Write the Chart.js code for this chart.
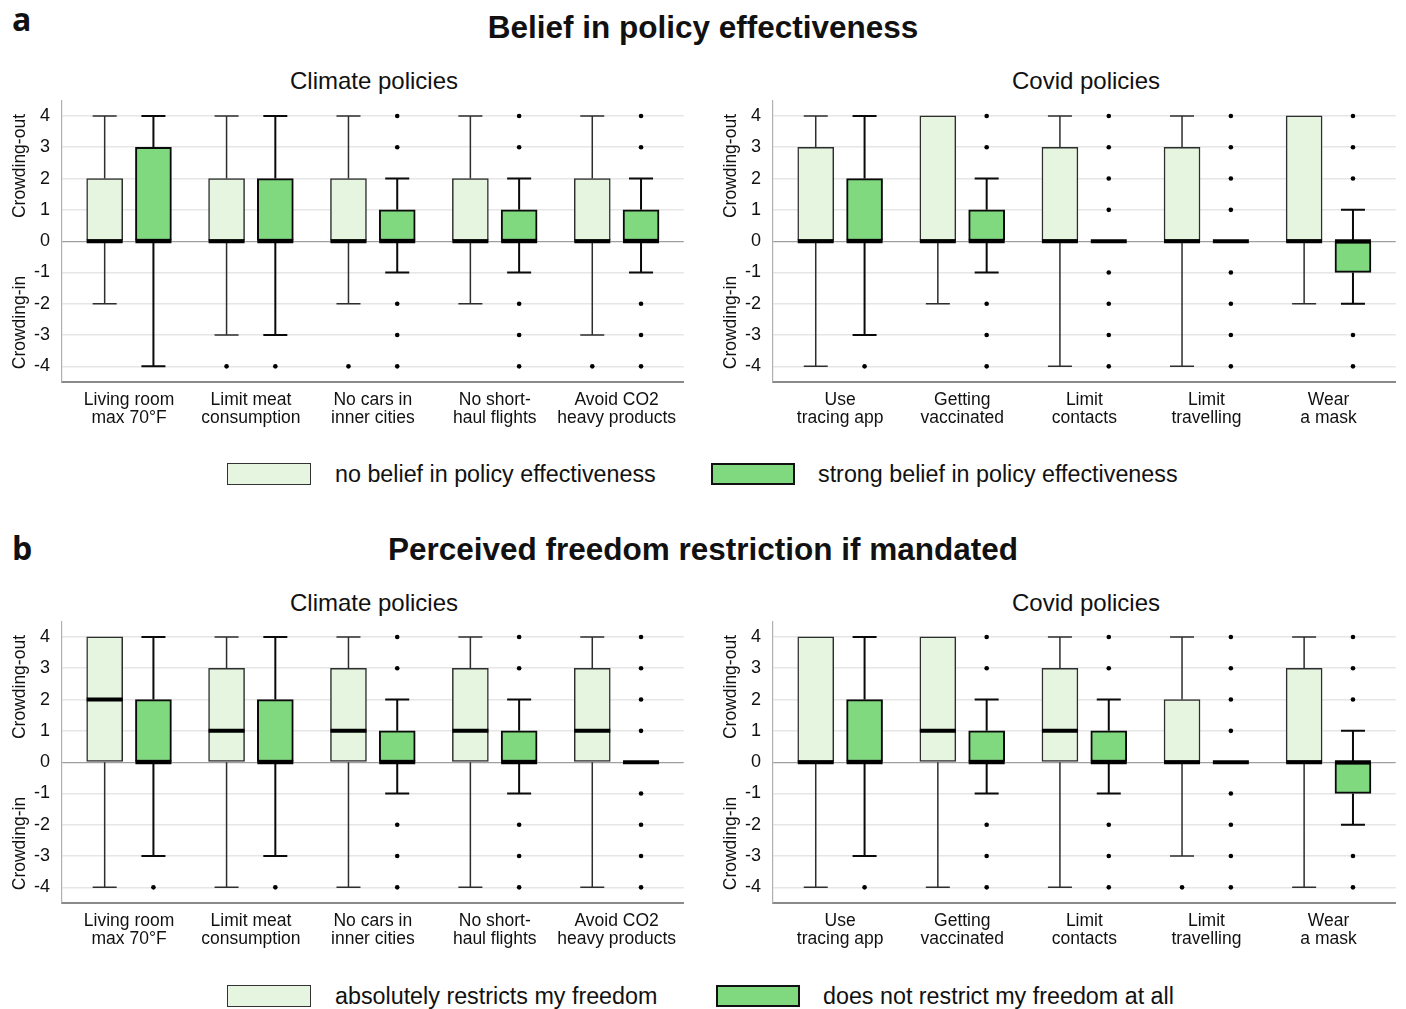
<!DOCTYPE html>
<html>
<head>
<meta charset="utf-8">
<script src="https://cdn.jsdelivr.net/npm/chart.js@4.4.1/dist/chart.umd.min.js"></script>
<style>
  html, body { margin: 0; padding: 0; background: #fff; }
  #page { position: relative; width: 1406px; height: 1009px; overflow: hidden;
          font-family: "Liberation Sans", Arial, sans-serif; color: #111; }
  canvas { position: absolute; }
  .txt { position: absolute; white-space: nowrap; line-height: 1; }
  .letter { font-family: "Open Sans", sans-serif; font-weight: 700; font-size: 32px; left: 12px; }
  .title { font-weight: 700; font-size: 31.5px; left: 0; width: 1406px; text-align: center; }
  .sub { font-size: 24px; text-align: center; width: 624px; }
  .sw { position: absolute; width: 84px; height: 22px; box-sizing: border-box; }
  .sw.light { background: #e5f5e0; border: 1.6px solid #333; }
  .sw.dark { background: #80d87f; border: 2px solid #111; }
  .lg { font-size: 23.3px; }
</style>
</head>
<body>
<div id="page">
  <div class="txt letter" style="top:3px">a</div>
  <div class="txt title" style="top:12px">Belief in policy effectiveness</div>
  <div class="txt sub" style="left:62px;top:69px">Climate policies</div>
  <div class="txt sub" style="left:774px;top:69px">Covid policies</div>
  <canvas id="aClimate" width="686" height="344" style="left:0;top:98px"></canvas>
  <canvas id="aCovid" width="687" height="344" style="left:711px;top:98px"></canvas>
  <div class="sw light" style="left:227px;top:463px"></div>
  <div class="txt lg" style="left:335px;top:463px">no belief in policy effectiveness</div>
  <div class="sw dark" style="left:711px;top:463px"></div>
  <div class="txt lg" style="left:818px;top:463px">strong belief in policy effectiveness</div>

  <div class="txt letter" style="top:532px">b</div>
  <div class="txt title" style="top:534px">Perceived freedom restriction if mandated</div>
  <div class="txt sub" style="left:62px;top:591px">Climate policies</div>
  <div class="txt sub" style="left:774px;top:591px">Covid policies</div>
  <canvas id="bClimate" width="686" height="344" style="left:0;top:619px"></canvas>
  <canvas id="bCovid" width="687" height="344" style="left:711px;top:619px"></canvas>
  <div class="sw light" style="left:227px;top:985px"></div>
  <div class="txt lg" style="left:335px;top:985px">absolutely restricts my freedom</div>
  <div class="sw dark" style="left:716px;top:985px"></div>
  <div class="txt lg" style="left:823px;top:985px">does not restrict my freedom at all</div>
</div>

<script>
// Policy labels (two lines each) and y tick values
const climateCategories = [['Living room', 'max 70°F'], ['Limit meat', 'consumption'], ['No cars in', 'inner cities'], ['No short-', 'haul flights'], ['Avoid CO2', 'heavy products']];
const covidCategories = [['Use', 'tracing app'], ['Getting', 'vaccinated'], ['Limit', 'contacts'], ['Limit', 'travelling'], ['Wear', 'a mask']];
const yTickValues = [-4, -3, -2, -1, 0, 1, 2, 3, 4];
const sideLabelText = ['Crowding-out', 'Crowding-in'];

// Box summaries per policy: [lower whisker, Q1, median, Q3, upper whisker]; outliers listed separately
// a) belief in policy effectiveness
const beliefClimateNone = [[-2, 0, 0, 2, 4], [-3, 0, 0, 2, 4], [-2, 0, 0, 2, 4], [-2, 0, 0, 2, 4], [-3, 0, 0, 2, 4]];
const beliefClimateNoneOut = [[], [-4], [-4], [], [-4]];
const beliefClimateStrong = [[-4, 0, 0, 3, 4], [-3, 0, 0, 2, 4], [-1, 0, 0, 1, 2], [-1, 0, 0, 1, 2], [-1, 0, 0, 1, 2]];
const beliefClimateStrongOut = [[], [-4], [4, 3, -2, -3, -4], [4, 3, -2, -3, -4], [4, 3, -2, -3, -4]];

const beliefCovidNone = [[-4, 0, 0, 3, 4], [-2, 0, 0, 4, 4], [-4, 0, 0, 3, 4], [-4, 0, 0, 3, 4], [-2, 0, 0, 4, 4]];
const beliefCovidNoneOut = [[], [], [], [], []];
const beliefCovidStrong = [[-3, 0, 0, 2, 4], [-1, 0, 0, 1, 2], [0, 0, 0, 0, 0], [0, 0, 0, 0, 0], [-2, -1, 0, 0, 1]];
const beliefCovidStrongOut = [[-4], [4, 3, -2, -3, -4], [4, 3, 2, 1, -1, -2, -3, -4], [4, 3, 2, 1, -1, -2, -3, -4], [4, 3, 2, -3, -4]];

// b) perceived freedom restriction if mandated
const freedomClimateAbs = [[-4, 0, 2, 4, 4], [-4, 0, 1, 3, 4], [-4, 0, 1, 3, 4], [-4, 0, 1, 3, 4], [-4, 0, 1, 3, 4]];
const freedomClimateAbsOut = [[], [], [], [], []];
const freedomClimateNot = [[-3, 0, 0, 2, 4], [-3, 0, 0, 2, 4], [-1, 0, 0, 1, 2], [-1, 0, 0, 1, 2], [0, 0, 0, 0, 0]];
const freedomClimateNotOut = [[-4], [-4], [4, 3, -2, -3, -4], [4, 3, -2, -3, -4], [4, 3, 2, 1, -1, -2, -3, -4]];

const freedomCovidAbs = [[-4, 0, 0, 4, 4], [-4, 0, 1, 4, 4], [-4, 0, 1, 3, 4], [-3, 0, 0, 2, 4], [-4, 0, 0, 3, 4]];
const freedomCovidAbsOut = [[], [], [], [-4], []];
const freedomCovidNot = [[-3, 0, 0, 2, 4], [-1, 0, 0, 1, 2], [-1, 0, 0, 1, 2], [0, 0, 0, 0, 0], [-2, -1, 0, 0, 1]];
const freedomCovidNotOut = [[-4], [4, 3, -2, -3, -4], [4, 3, -2, -3, -4], [4, 3, 2, 1, -1, -2, -3, -4], [4, 3, 2, -3, -4]];

const FONT = '"Liberation Sans", Arial, sans-serif';
const LIGHT = { fill: '#e5f5e0', line: '#2e2e2e', width: 1.5 };
const DARK = { fill: '#80d87f', line: '#0a0a0a', width: 2 };
const PAIR_OFFSET = 0.2;

// whiskers, caps and median bars drawn on top of the box bars
const boxWhiskers = {
  id: 'boxWhiskers',
  afterDatasetsDraw(chart) {
    const { ctx } = chart;
    const y = chart.scales.y;
    chart.data.datasets.forEach((ds, di) => {
      if (!ds.stats) return;
      const meta = chart.getDatasetMeta(di);
      meta.data.forEach((bar, i) => {
        const [lo, q1, med, q3, hi] = ds.stats[i];
        const cx = bar.x, w = bar.width, cap = w / 3;
        ctx.save();
        ctx.strokeStyle = ds.whiskerColor;
        ctx.lineWidth = ds.whiskerWidth;
        ctx.beginPath();
        if (hi > q3) {
          ctx.moveTo(cx, y.getPixelForValue(q3));
          ctx.lineTo(cx, y.getPixelForValue(hi));
          ctx.moveTo(cx - cap, y.getPixelForValue(hi));
          ctx.lineTo(cx + cap, y.getPixelForValue(hi));
        }
        if (lo < q1) {
          ctx.moveTo(cx, y.getPixelForValue(q1));
          ctx.lineTo(cx, y.getPixelForValue(lo));
          ctx.moveTo(cx - cap, y.getPixelForValue(lo));
          ctx.lineTo(cx + cap, y.getPixelForValue(lo));
        }
        ctx.stroke();
        ctx.strokeStyle = '#000';
        ctx.lineWidth = 4;
        ctx.beginPath();
        const ym = y.getPixelForValue(med);
        ctx.moveTo(cx - w / 2, ym);
        ctx.lineTo(cx + w / 2, ym);
        ctx.stroke();
        ctx.restore();
      });
    });
  }
};

// rotated "Crowding-out" / "Crowding-in" captions beside the y axis
const sideLabels = {
  id: 'sideLabels',
  afterDraw(chart) {
    const { ctx } = chart;
    const y = chart.scales.y;
    const centres = [2.4, -2.6];
    ctx.save();
    ctx.fillStyle = '#111';
    ctx.font = '17.5px ' + FONT;
    ctx.textAlign = 'center';
    ctx.textBaseline = 'middle';
    sideLabelText.forEach((t, k) => {
      ctx.save();
      ctx.translate(20, y.getPixelForValue(centres[k]));
      ctx.rotate(-Math.PI / 2);
      ctx.fillText(t, 0, 0);
      ctx.restore();
    });
    ctx.restore();
  }
};

function boxDataset(stats, offset, style) {
  return {
    type: 'bar',
    data: stats.map((s, i) => ({ x: i + 1 + offset, y: [s[1], s[3]] })),
    stats: stats,
    whiskerColor: style.line,
    whiskerWidth: style.width,
    backgroundColor: style.fill,
    borderColor: style.line,
    borderWidth: style.width,
    borderSkipped: false,
    grouped: false,
    barThickness: 36,
    maxBarThickness: 36,
    order: 2
  };
}

function outlierDataset(out, offset) {
  const pts = [];
  out.forEach((vals, i) => vals.forEach(v => pts.push({ x: i + 1 + offset, y: v })));
  return {
    type: 'scatter',
    data: pts,
    pointRadius: 2.3,
    pointHoverRadius: 2.3,
    pointBackgroundColor: '#000',
    pointBorderWidth: 0,
    order: 1
  };
}

function panel(id, categories, lightStats, lightOut, darkStats, darkOut) {
  new Chart(document.getElementById(id), {
    type: 'bar',
    data: {
      datasets: [
        boxDataset(lightStats, -PAIR_OFFSET, LIGHT),
        boxDataset(darkStats, PAIR_OFFSET, DARK),
        outlierDataset(lightOut, -PAIR_OFFSET),
        outlierDataset(darkOut, PAIR_OFFSET)
      ]
    },
    options: {
      responsive: false,
      animation: false,
      events: [],
      layout: { padding: 0 },
      plugins: { legend: { display: false }, tooltip: { enabled: false } },
      scales: {
        x: {
          type: 'linear',
          min: 0.45,
          max: 5.55,
          offset: false,
          afterBuildTicks: s => { s.ticks = categories.map((_, i) => ({ value: i + 1 })); },
          afterFit: s => { s.height = 60; s.paddingLeft = 0; s.paddingRight = 0; },
          grid: { display: false, drawTicks: false },
          border: { display: true, color: '#8a8a8a', width: 2 },
          ticks: {
            autoSkip: false,
            maxRotation: 0,
            padding: 10,
            color: '#111',
            font: { family: FONT, size: 17.5, lineHeight: 0.98 },
            callback: (v, i) => categories[i]
          }
        },
        y: {
          type: 'linear',
          min: -4.5,
          max: 4.5,
          afterBuildTicks: s => { s.ticks = yTickValues.map(v => ({ value: v })); },
          afterFit: s => { s.width = 62; s.paddingTop = 0; s.paddingBottom = 0; },
          grid: {
            drawTicks: false,
            color: c => (c.tick && c.tick.value === 0) ? '#9e9e9e' : '#e6e6e6',
            lineWidth: c => (c.tick && c.tick.value === 0) ? 1.3 : 1.6
          },
          border: { display: true, color: '#b0b0b0', width: 1.2 },
          ticks: { padding: 12, color: '#111', font: { family: FONT, size: 18 } }
        }
      }
    },
    plugins: [boxWhiskers, sideLabels]
  });
}

panel('aClimate', climateCategories, beliefClimateNone, beliefClimateNoneOut, beliefClimateStrong, beliefClimateStrongOut);
panel('aCovid', covidCategories, beliefCovidNone, beliefCovidNoneOut, beliefCovidStrong, beliefCovidStrongOut);
panel('bClimate', climateCategories, freedomClimateAbs, freedomClimateAbsOut, freedomClimateNot, freedomClimateNotOut);
panel('bCovid', covidCategories, freedomCovidAbs, freedomCovidAbsOut, freedomCovidNot, freedomCovidNotOut);
</script>
</body>
</html>
